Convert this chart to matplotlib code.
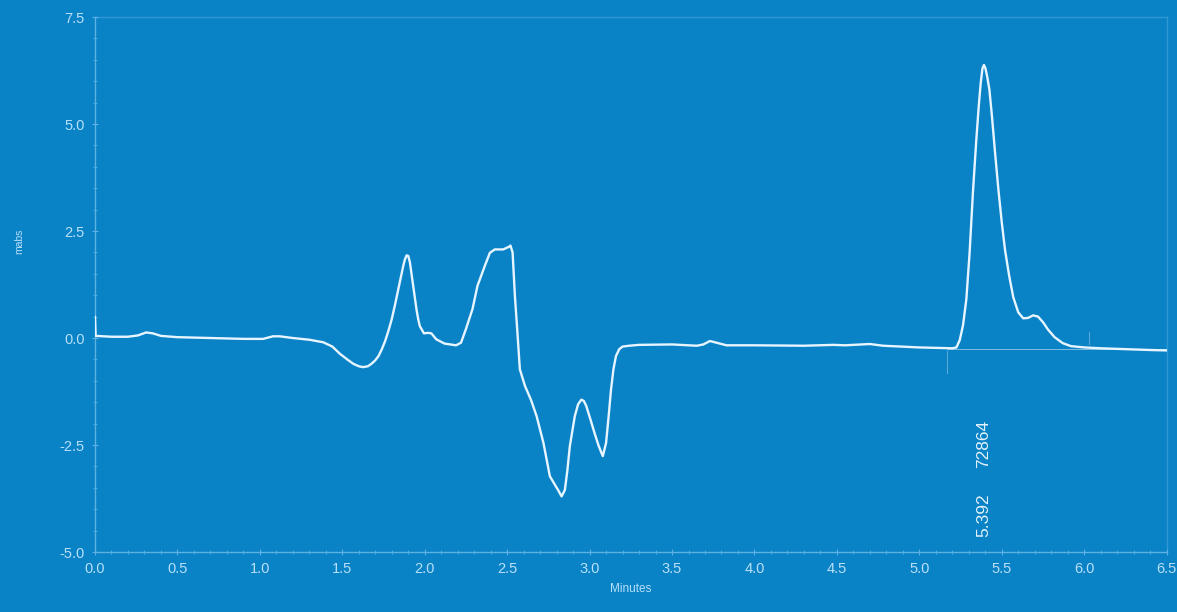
import matplotlib
matplotlib.use("Agg")
import matplotlib.pyplot as plt
from matplotlib.ticker import MultipleLocator, FormatStrFormatter

# Chromatogram trace: retention time (min) and detector response (mAbs)
time_min = [
    0.000, 0.004, 0.10, 0.20, 0.26, 0.31, 0.35, 0.40, 0.50, 0.70,
    0.90, 1.02, 1.08, 1.12, 1.20, 1.30, 1.385, 1.44, 1.486, 1.53,
    1.566, 1.60, 1.627, 1.655, 1.678, 1.70, 1.72, 1.74, 1.76, 1.78,
    1.80, 1.82, 1.84, 1.855, 1.87, 1.88, 1.89, 1.90, 1.91, 1.92,
    1.93, 1.94, 1.95, 1.96, 1.97, 1.995, 2.02, 2.04, 2.07, 2.12,
    2.19, 2.22, 2.25, 2.29, 2.32, 2.365, 2.395, 2.425, 2.476, 2.51,
    2.52, 2.533, 2.547, 2.561, 2.577, 2.608, 2.645, 2.679, 2.72, 2.759,
    2.79, 2.81, 2.83, 2.85, 2.865, 2.88, 2.91, 2.93, 2.95, 2.965,
    2.98, 3.005, 3.03, 3.055, 3.08, 3.10, 3.115, 3.13, 3.145, 3.16,
    3.18, 3.20, 3.24, 3.30, 3.50, 3.65, 3.69, 3.73, 3.77, 3.83,
    4.00, 4.30, 4.48, 4.55, 4.70, 4.78, 5.00, 5.20, 5.225, 5.245,
    5.265, 5.285, 5.305, 5.325, 5.345, 5.36, 5.372, 5.383, 5.392, 5.401,
    5.412, 5.425, 5.44, 5.46, 5.48, 5.50, 5.52, 5.545, 5.57, 5.60,
    5.63, 5.66, 5.69, 5.72, 5.75, 5.78, 5.82, 5.87, 5.92, 6.00,
    6.10, 6.25, 6.40, 6.50,
]
signal_mabs = [
    0.50, 0.05, 0.03, 0.03, 0.06, 0.13, 0.11, 0.05, 0.02, 0.00,
    -0.02, -0.02, 0.04, 0.04, 0.00, -0.04, -0.10, -0.20, -0.37, -0.50,
    -0.60, -0.66, -0.68, -0.66, -0.60, -0.52, -0.42, -0.26, -0.07, 0.17,
    0.44, 0.78, 1.14, 1.42, 1.69, 1.84, 1.93, 1.92, 1.77, 1.50,
    1.22, 0.94, 0.67, 0.45, 0.28, 0.11, 0.12, 0.11, -0.03, -0.13,
    -0.17, -0.11, 0.21, 0.68, 1.22, 1.69, 1.99, 2.07, 2.07, 2.13,
    2.16, 2.00, 0.98, 0.20, -0.73, -1.12, -1.45, -1.83, -2.45, -3.23,
    -3.43, -3.56, -3.70, -3.55, -3.10, -2.53, -1.83, -1.55, -1.44, -1.47,
    -1.59, -1.90, -2.22, -2.52, -2.76, -2.45, -1.85, -1.20, -0.72, -0.42,
    -0.26, -0.20, -0.18, -0.16, -0.15, -0.18, -0.15, -0.07, -0.11, -0.17,
    -0.17, -0.18, -0.16, -0.17, -0.14, -0.18, -0.22, -0.24, -0.22, -0.05,
    0.30, 0.90, 2.00, 3.40, 4.60, 5.40, 5.95, 6.30, 6.38, 6.30,
    6.10, 5.80, 5.20, 4.30, 3.45, 2.70, 2.05, 1.45, 0.95, 0.60,
    0.46, 0.47, 0.53, 0.50, 0.37, 0.20, 0.02, -0.12, -0.19, -0.22,
    -0.24, -0.26, -0.28, -0.29,
]

# Integrated peak: retention time, area and its baseline
peak_rt = 5.392
peak_area = 72864
baseline_start = 5.17
baseline_end = 6.50
baseline_level = -0.26
peak_end_mark = 6.03

x_ticks = [0.0, 0.5, 1.0, 1.5, 2.0, 2.5, 3.0, 3.5, 4.0, 4.5, 5.0, 5.5, 6.0, 6.5]
y_ticks = [-5.0, -2.5, 0.0, 2.5, 5.0, 7.5]

BG = "#0a82c6"
TRACE = "#e6f5ff"
AXIS = "#5cb2e4"
LABEL = "#b8e0f8"

plt.rcParams["font.family"] = ["Liberation Sans", "DejaVu Sans"]

fig = plt.figure(figsize=(11.77, 6.12), dpi=100, facecolor=BG)
ax = fig.add_axes([0.0807, 0.098, 0.9105, 0.8742], facecolor=BG)

ax.plot(time_min, signal_mabs, color=TRACE, lw=1.7, solid_joinstyle="round",
        solid_capstyle="round", zorder=3)

# baseline under the integrated peak and its start/end markers
ax.plot([baseline_start, baseline_end], [baseline_level, baseline_level],
        color=TRACE, lw=0.6, alpha=0.6, zorder=2)
ax.plot([baseline_start, baseline_start], [baseline_level - 0.05, baseline_level - 0.55],
        color=TRACE, lw=0.8, alpha=0.35, zorder=2)
ax.plot([peak_end_mark, peak_end_mark], [-0.14, 0.14], color=TRACE, lw=0.8,
        alpha=0.35, zorder=2)

ax.text(peak_rt, -2.47, f"{peak_area}", rotation=90, ha="center", va="center",
        color="#e2f2fc", fontsize=12.5)
ax.text(peak_rt, -4.13, f"{peak_rt:.3f}", rotation=90, ha="center", va="center",
        color="#e2f2fc", fontsize=12.5)

ax.set_xlim(0.0, 6.5)
ax.set_ylim(-5.0, 7.5)
ax.set_xticks(x_ticks)
ax.set_yticks(y_ticks)
ax.xaxis.set_major_formatter(FormatStrFormatter("%.1f"))
ax.yaxis.set_major_formatter(FormatStrFormatter("%.1f"))
ax.xaxis.set_minor_locator(MultipleLocator(0.1))
ax.yaxis.set_minor_locator(MultipleLocator(0.5))

for side in ("left", "bottom", "top", "right"):
    ax.spines[side].set_color(AXIS)
    ax.spines[side].set_linewidth(1.0)
ax.spines["top"].set_alpha(0.45)
ax.spines["right"].set_alpha(0.45)

ax.tick_params(axis="both", which="major", direction="inout", length=5, width=0.8,
               color=AXIS, labelcolor=LABEL, labelsize=10.5, pad=5)
ax.tick_params(axis="both", which="minor", direction="inout", length=3, width=0.6,
               color=AXIS)

ax.set_xlabel("Minutes", color=LABEL, fontsize=8.5, labelpad=5)
ax.set_ylabel("mabs", color=LABEL, fontsize=7.5, labelpad=40)
ax.yaxis.set_label_coords(-0.066, 0.58)

fig.savefig("out.png", dpi=100, facecolor=BG)
